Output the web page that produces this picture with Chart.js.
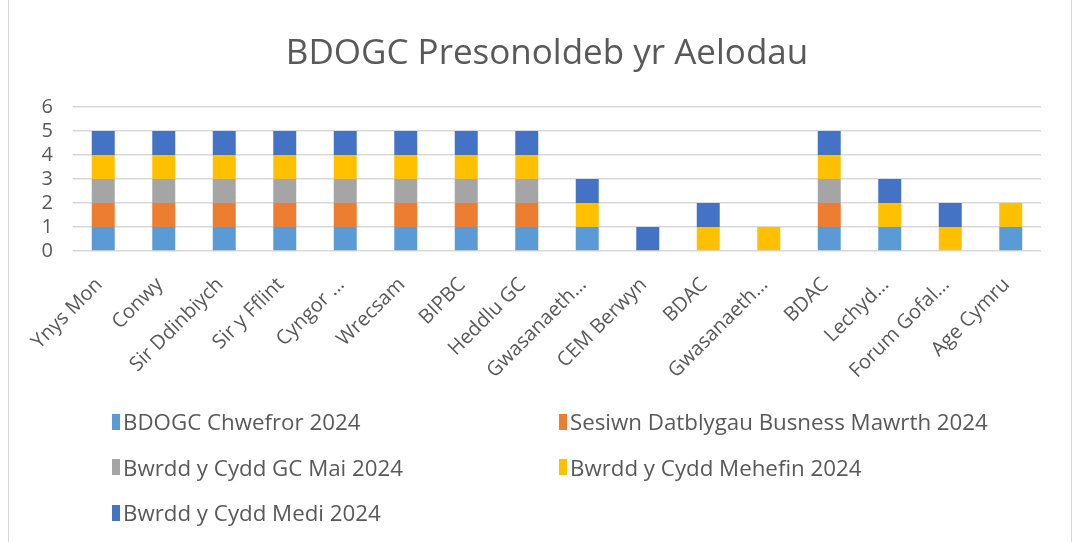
<!DOCTYPE html>
<html>
<head>
<meta charset="utf-8">
<script src="https://cdn.jsdelivr.net/npm/chart.js@4.4.1/dist/chart.umd.min.js"></script>
<style>
  body { margin: 0; background: #fff; }
  #wrap { position: relative; width: 1078px; height: 542px; }
  #frame { position: absolute; left: 8px; top: -2px; width: 1064px; height: 545px; border: 1px solid #d9d9d9; box-sizing: border-box; }
  #legend { position: absolute; left: 112px; top: 399px; display: grid; grid-template-columns: 447px 447px; row-gap: 0; font-family: "Open Sans", sans-serif; font-size: 22.3px; color: #595959; }
  #legend div { height: 45.5px; display: flex; align-items: center; white-space: nowrap; }
  #legend span.sw { display: inline-block; width: 8px; height: 16px; margin-right: 3px; }
</style>
</head>
<body>
<div id="wrap">
  <div id="frame"></div>
  <canvas id="chart" width="1078" height="542"></canvas>
  <div id="legend"></div>
</div>
<script>
// Categorïau
var categories = ['Ynys Mon', 'Conwy', 'Sir Ddinbiych', 'Sir y Fflint', 'Cyngor …', 'Wrecsam', 'BIPBC', 'Heddlu GC',
  'Gwasanaeth…', 'CEM Berwyn', 'BDAC', 'Gwasanaeth…', 'BDAC', 'Lechyd…', 'Forum Gofal…', 'Age Cymru']

// Cyfresi
var chwefror = [1, 1, 1, 1, 1, 1, 1, 1, 1, 0, 0, 0, 1, 1, 0, 1]
var mawrth   = [1, 1, 1, 1, 1, 1, 1, 1, 0, 0, 0, 0, 1, 0, 0, 0]
var mai      = [1, 1, 1, 1, 1, 1, 1, 1, 0, 0, 0, 0, 1, 0, 0, 0]
var mehefin  = [1, 1, 1, 1, 1, 1, 1, 1, 1, 0, 1, 1, 1, 1, 1, 1]
var medi     = [1, 1, 1, 1, 1, 1, 1, 1, 1, 1, 1, 0, 1, 1, 1, 0]

var yTicks = [0, 1, 2, 3, 4, 5, 6]

var grey = '#595959'
var fontFam = '"Open Sans", sans-serif'

// symud y teitl i ganol y ffrâm
var titleShift = {
  id: 'titleShift',
  afterLayout: function(chart) {
    chart.titleBlock.left += 21.5
    chart.titleBlock.right += 21.5
  }
}

var chart = new Chart(document.getElementById('chart'), {
  type: 'bar',
  data: {
    labels: categories,
    datasets: [
      { label: 'BDOGC Chwefror 2024', data: chwefror, backgroundColor: '#5B9BD5' },
      { label: 'Sesiwn Datblygau Busness Mawrth 2024', data: mawrth, backgroundColor: '#ED7D31' },
      { label: 'Bwrdd y Cydd GC Mai 2024', data: mai, backgroundColor: '#A5A5A5' },
      { label: 'Bwrdd y Cydd Mehefin 2024', data: mehefin, backgroundColor: '#FFC000' },
      { label: 'Bwrdd y Cydd Medi 2024', data: medi, backgroundColor: '#4472C4' }
    ]
  },
  plugins: [titleShift],
  options: {
    responsive: false,
    animation: false,
    categoryPercentage: 1,
    barPercentage: 0.38,
    layout: { padding: { left: 10, right: 37, top: 0, bottom: 141 } },
    plugins: {
      legend: { display: false },
      tooltip: { enabled: false },
      title: {
        display: true,
        text: 'BDOGC Presonoldeb yr Aelodau',
        color: grey,
        font: { family: fontFam, size: 35, weight: 'normal', lineHeight: 1.2 },
        padding: { top: 33, bottom: 32 }
      }
    },
    scales: {
      x: {
        stacked: true,
        grid: { display: false },
        border: { display: false },
        ticks: { color: grey, font: { family: fontFam, size: 20 }, minRotation: 45, maxRotation: 45, autoSkip: false, padding: 14, labelOffset: -4 },
        afterFit: function(s) { s.height = 150 }
      },
      y: {
        stacked: true,
        min: 0,
        max: 6,
        afterBuildTicks: function(s) { s.ticks = yTicks.map(function(v) { return { value: v } }) },
        grid: { color: '#d9d9d9', lineWidth: 1.5, drawTicks: false },
        border: { display: false },
        ticks: { color: grey, font: { family: fontFam, size: 20 }, padding: 20, autoSkip: false },
        afterFit: function(s) { s.width = 63 }
      }
    }
  }
});

// Chwedl
var legend = document.getElementById('legend')
chart.data.datasets.forEach(function(ds) {
  var item = document.createElement('div')
  var sw = document.createElement('span')
  sw.className = 'sw'
  sw.style.background = ds.backgroundColor
  item.appendChild(sw)
  item.appendChild(document.createTextNode(ds.label))
  legend.appendChild(item)
})
</script>
</body>
</html>
